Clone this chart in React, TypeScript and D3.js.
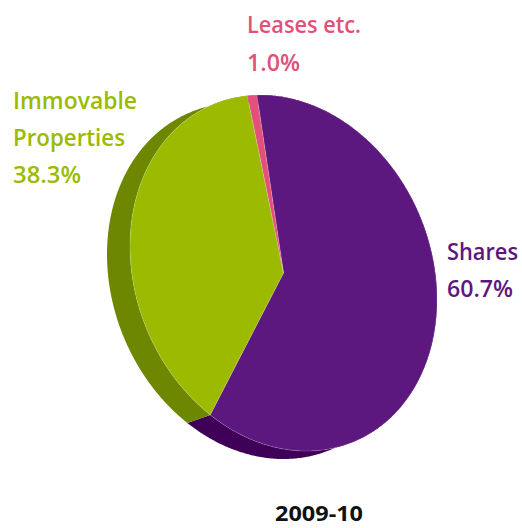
import React from "react";
import * as d3 from "d3";

const categories = ["Shares", "Immovable Properties", "Leases etc."];
const values = [60.7, 38.3, 1.0];
const valueLabels = ["60.7%", "38.3%", "1.0%"];
const topColors = ["#5d1880", "#9bba00", "#e2517a"];
const sideColors = ["#3f0058", "#6d8700", "#a83a5a"];
const title = "2009-10";

const W = 522;
const H = 528;
// ellipse geometry (affine image of unit circle)
const CX = 283.5;
const CY = 273;
const SX = 153.5;
const SH = 26.7;
const SY = 176;
const DX = -23;
const DY = 8;
const START = (-10 * Math.PI) / 180;

function pt(theta: number, ox = 0, oy = 0): [number, number] {
  const a = theta - Math.PI / 2;
  const c = Math.cos(a);
  const s = Math.sin(a);
  return [CX + SX * c + ox, CY + SH * c + SY * s + oy];
}

function arcPts(t0: number, t1: number, ox = 0, oy = 0): [number, number][] {
  const n = Math.max(2, Math.ceil(Math.abs(t1 - t0) / 0.01));
  const out: [number, number][] = [];
  for (let i = 0; i <= n; i++) out.push(pt(t0 + ((t1 - t0) * i) / n, ox, oy));
  return out;
}

export default function App() {
  const pie = d3
    .pie<number>()
    .sort(null)
    .value((d) => d)
    .startAngle(START)
    .endAngle(START + 2 * Math.PI);
  const arcs = pie(values);
  const line = d3.line();

  const sides = arcs.map((a) => {
    const top = arcPts(a.startAngle, a.endAngle);
    const bot = arcPts(a.endAngle, a.startAngle, DX, DY);
    return line([...top, ...bot]) + "Z";
  });
  const tops = arcs.map((a) => {
    const top = arcPts(a.startAngle, a.endAngle);
    return line([[CX, CY], ...top]) + "Z";
  });

  const font = "'Open Sans', 'Noto Sans', sans-serif";
  const txt = (
    s: string,
    x: number,
    y: number,
    color: string,
    len: number,
    size = 23,
    weight = 600
  ) => (
    <text
      x={x}
      y={y}
      fill={color}
      fontFamily={font}
      fontWeight={weight}
      fontSize={size}
      textLength={len}
      lengthAdjust="spacingAndGlyphs"
    >
      {s}
    </text>
  );

  return (
    <svg
      width={W}
      height={H}
      style={{ position: "absolute", left: 0, top: 0, background: "#fff" }}
    >
      {sides.map((d, i) => (
        <path key={"s" + i} d={d} fill={sideColors[i]} />
      ))}
      {tops.map((d, i) => (
        <path
          key={"t" + i}
          d={d}
          fill={topColors[i]}
          stroke="rgba(255,255,255,0.35)"
          strokeWidth={0.5}
        />
      ))}
      {txt("Leases etc.", 247, 33, topColors[2], 114)}
      {txt(valueLabels[2], 247, 71, topColors[2], 53)}
      {txt("Immovable", 13, 109, topColors[1], 124)}
      {txt("Properties", 13, 146, topColors[1], 112)}
      {txt(valueLabels[1], 13, 183, topColors[1], 68)}
      {txt(categories[0], 447, 260, topColors[0], 71)}
      {txt(valueLabels[0], 447, 297, topColors[0], 66)}
      {txt(title, 275, 521, "#111", 88, 22, 700)}
    </svg>
  );
}
